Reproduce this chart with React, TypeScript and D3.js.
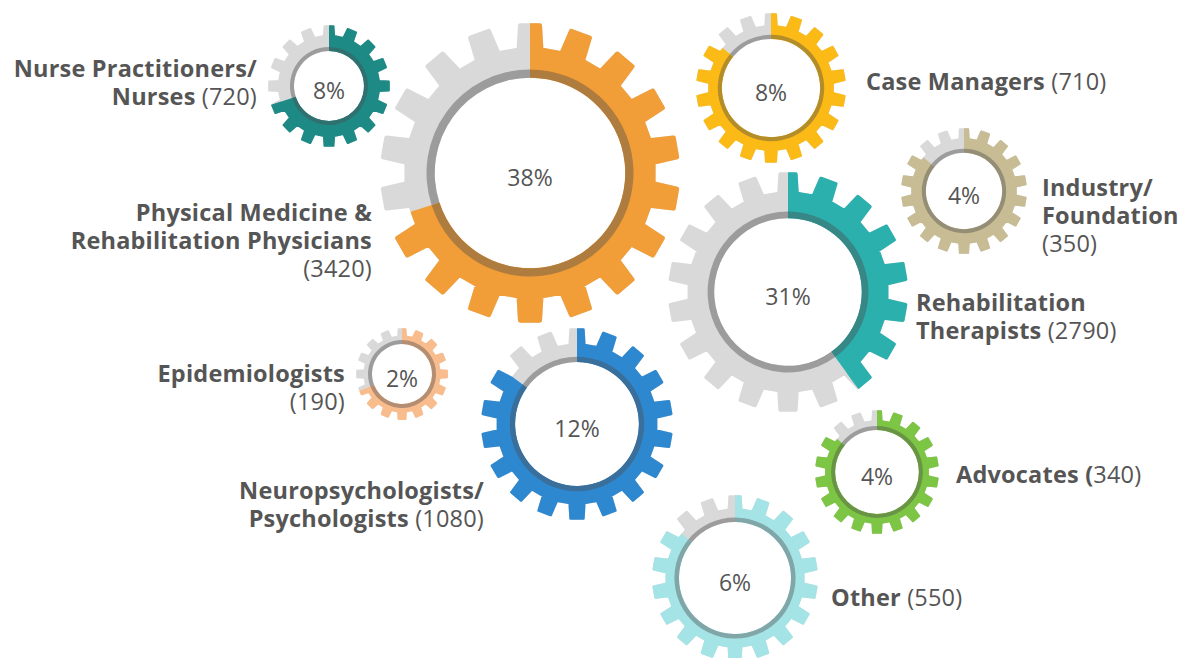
import React from "react";
import * as d3 from "d3";

// ---------------- data ----------------
const categories = [
  "Nurse Practitioners/ Nurses",
  "Physical Medicine & Rehabilitation Physicians",
  "Case Managers",
  "Industry/ Foundation",
  "Rehabilitation Therapists",
  "Epidemiologists",
  "Neuropsychologists/ Psychologists",
  "Advocates",
  "Other",
];
const counts = [720, 3420, 710, 350, 2790, 190, 1080, 340, 550];
const percents = [8, 38, 8, 4, 31, 2, 12, 4, 6];
// share of each gear painted in colour (decorative arc, clockwise from 12 o'clock)
const fillShares = [0.7, 0.7, 0.86, 0.86, 0.4, 0.69, 0.85, 0.86, 0.86];
// bold label lines
const labelBold = [
  ["Nurse Practitioners/", "Nurses"],
  ["Physical Medicine &", "Rehabilitation Physicians"],
  ["Case Managers"],
  ["Industry/", "Foundation"],
  ["Rehabilitation", "Therapists"],
  ["Epidemiologists"],
  ["Neuropsychologists/", "Psychologists"],
  ["Advocates ("],
  ["Other"],
];

// ---------------- styles / layout ----------------
const colors = ["#1E8A86", "#F29E38", "#FBBA16", "#C7BC94", "#2BB0AE", "#F9BC8C", "#2E88D0", "#7DC544", "#A4E4E6"];
const gearLayout = [
  { cx: 329, cy: 86, r: 61, ring: 0.64, teeth: 16 },
  { cx: 530, cy: 173, r: 150, ring: 0.69, teeth: 18 },
  { cx: 771, cy: 88, r: 75, ring: 0.71, teeth: 18 },
  { cx: 964, cy: 191, r: 63, ring: 0.67, teeth: 18 },
  { cx: 788, cy: 292, r: 120, ring: 0.67, teeth: 18 },
  { cx: 402, cy: 374, r: 46, ring: 0.74, teeth: 16 },
  { cx: 577, cy: 424, r: 96, ring: 0.7, teeth: 18 },
  { cx: 877, cy: 472, r: 62, ring: 0.74, teeth: 18 },
  { cx: 735, cy: 578, r: 83, ring: 0.73, teeth: 18 },
];
const labelLayout = [
  { x: 257, y: 77, anchor: "end", countNewLine: false, closeParen: false },
  { x: 372, y: 221, anchor: "end", countNewLine: true, closeParen: false },
  { x: 866, y: 90, anchor: "start", countNewLine: false, closeParen: false },
  { x: 1042, y: 196, anchor: "start", countNewLine: true, closeParen: false },
  { x: 916, y: 311, anchor: "start", countNewLine: false, closeParen: false },
  { x: 345, y: 382, anchor: "end", countNewLine: true, closeParen: false },
  { x: 484, y: 499, anchor: "end", countNewLine: false, closeParen: false },
  { x: 956, y: 483, anchor: "start", countNewLine: false, closeParen: true },
  { x: 831, y: 606, anchor: "start", countNewLine: false, closeParen: false },
];
const GREY = "#D9D9D9";
const RING_GREY = "#9C9C9C";
const TEXT = "#555555";
const FONT = "'Open Sans', 'Noto Sans', sans-serif";
const LINE_H = 28;
const LABEL_SIZE = 23.5;

function gearPoints(rTip: number, rRoot: number, n: number): [number, number][] {
  const pitch = (2 * Math.PI) / n;
  const tipHalf = pitch * 0.19;
  const baseHalf = pitch * 0.26;
  const pts: [number, number][] = [];
  for (let i = 0; i < n; i++) {
    const a = i * pitch;
    pts.push([a - baseHalf, rRoot]);
    pts.push([a - tipHalf, rTip]);
    pts.push([a + tipHalf, rTip]);
    pts.push([a + baseHalf, rRoot]);
  }
  return pts;
}

const radial = d3.lineRadial<[number, number]>()
  .angle((d) => d[0])
  .radius((d) => d[1])
  .curve(d3.curveLinearClosed);

function Gear({ i }: { i: number }) {
  const { cx, cy, r, ring, teeth } = gearLayout[i];
  const color = colors[i];
  const share = fillShares[i];
  const sw = Math.max(2, r * 0.03);
  const rTip = r - sw / 2;
  const rRoot = r * 0.84 - sw / 2;
  const path = radial(gearPoints(rTip, rRoot, teeth)) as string;
  const end = share * 2 * Math.PI;
  const wedge = d3.arc()({ innerRadius: 0, outerRadius: r + 10, startAngle: 0, endAngle: end }) as string;
  const ringOuter = r * ring;
  const ringW = Math.max(4, r * 0.055);
  const ringInner = ringOuter - ringW;
  const darkColor = d3.interpolateRgb(color, "#4a4a4a")(0.4);
  const ringColored = d3.arc()({ innerRadius: ringInner, outerRadius: ringOuter, startAngle: 0, endAngle: end }) as string;
  const ringGrey = d3.arc()({ innerRadius: ringInner, outerRadius: ringOuter, startAngle: end, endAngle: 2 * Math.PI }) as string;
  const clipId = `clip-${i}`;
  return (
    <g transform={`translate(${cx},${cy})`}>
      <defs>
        <clipPath id={clipId}>
          <path d={wedge} />
        </clipPath>
      </defs>
      <path d={path} fill={GREY} stroke={GREY} strokeWidth={sw} strokeLinejoin="round" />
      <path d={path} fill={color} stroke={color} strokeWidth={sw} strokeLinejoin="round" clipPath={`url(#${clipId})`} />
      <circle r={ringInner} fill="#fff" />
      <path d={ringGrey} fill={RING_GREY} />
      <path d={ringColored} fill={darkColor} />
      <text
        y={4}
        textAnchor="middle"
        dominantBaseline="central"
        fontFamily={FONT}
        fontSize={23}
        fill={TEXT}
      >
        {percents[i]}%
      </text>
    </g>
  );
}

function Label({ i }: { i: number }) {
  const L = labelLayout[i];
  const bold = labelBold[i];
  const countStr = L.closeParen ? `${counts[i]})` : `(${counts[i]})`;
  const lines: { b: string; r: string }[] = bold.map((b) => ({ b, r: "" }));
  if (L.countNewLine) lines.push({ b: "", r: countStr });
  else lines[lines.length - 1].r = (L.closeParen ? "" : " ") + countStr;
  return (
    <text
      x={L.x}
      y={L.y}
      textAnchor={L.anchor as any}
      fontFamily={FONT}
      fontSize={LABEL_SIZE}
      letterSpacing={0.2}
      fill={TEXT}
    >
      {lines.map((ln, k) => (
        <tspan key={k} x={L.x} y={L.y + k * LINE_H}>
          {ln.b && <tspan fontWeight={700}>{ln.b}</tspan>}
          {ln.r && <tspan fontWeight={400}>{ln.r}</tspan>}
        </tspan>
      ))}
    </text>
  );
}

export default function App() {
  const idx = d3.range(categories.length);
  return (
    <svg
      width={1191}
      height={658}
      style={{ position: "absolute", left: 0, top: 0, background: "#fff" }}
    >
      {idx.map((i) => (
        <Gear key={`g${i}`} i={i} />
      ))}
      {idx.map((i) => (
        <Label key={`l${i}`} i={i} />
      ))}
    </svg>
  );
}
